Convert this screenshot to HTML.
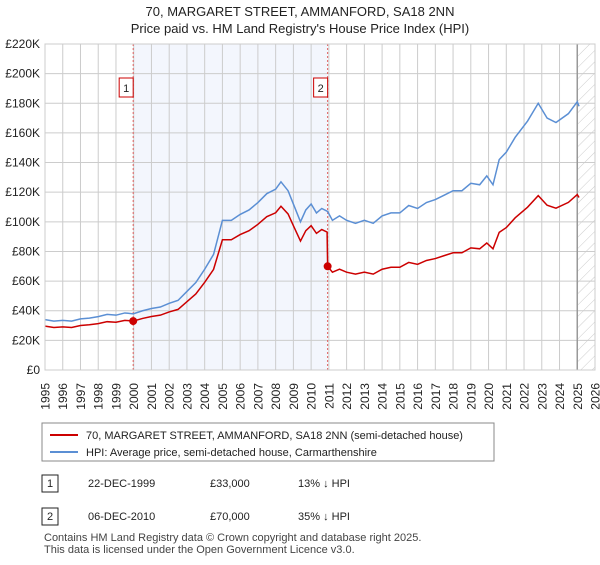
<!DOCTYPE html>
<html><head><meta charset="utf-8"><style>
body{margin:0;background:#fff;font-family:"Liberation Sans",sans-serif;}
svg text{font-family:"Liberation Sans",sans-serif;}
</style></head><body>
<svg width="600" height="560" xmlns="http://www.w3.org/2000/svg">
<defs><pattern id="hatch" width="8" height="8" patternUnits="userSpaceOnUse" patternTransform="rotate(45)"><line x1="0" y1="0" x2="0" y2="8" stroke="#ccc" stroke-width="1"/></pattern></defs>
<text x="300" y="16" text-anchor="middle" font-size="13" fill="#222">70, MARGARET STREET, AMMANFORD, SA18 2NN</text>
<text x="300" y="33" text-anchor="middle" font-size="13" fill="#222">Price paid vs. HM Land Registry's House Price Index (HPI)</text>
<g id="plot"></g>
<g>
<rect x="42" y="423" width="452" height="38" fill="#fff" stroke="#888"/>
<line x1="50" y1="435" x2="78" y2="435" stroke="#cc0000" stroke-width="2"/>
<text x="86" y="439" font-size="11" fill="#222">70, MARGARET STREET, AMMANFORD, SA18 2NN (semi-detached house)</text>
<line x1="50" y1="452" x2="78" y2="452" stroke="#5b8fd4" stroke-width="2"/>
<text x="86" y="456" font-size="11" fill="#222">HPI: Average price, semi-detached house, Carmarthenshire</text>
</g>
<g font-size="11" fill="#222">
<rect x="42" y="475" width="16" height="17" fill="#fff" stroke="#222"/><text x="50" y="487" text-anchor="middle">1</text>
<text x="88" y="487">22-DEC-1999</text><text x="210" y="487">£33,000</text><text x="298" y="487">13% ↓ HPI</text>
<rect x="42" y="508" width="16" height="17" fill="#fff" stroke="#222"/><text x="50" y="520" text-anchor="middle">2</text>
<text x="88" y="520">06-DEC-2010</text><text x="210" y="520">£70,000</text><text x="298" y="520">35% ↓ HPI</text>
</g>
<text x="44" y="541" font-size="11" fill="#444">Contains HM Land Registry data © Crown copyright and database right 2025.</text>
<text x="44" y="553" font-size="11" fill="#444">This data is licensed under the Open Government Licence v3.0.</text>
</svg>
<script>
const yTicks=[0,20,40,60,80,100,120,140,160,180,200,220];
const years=[1995,1996,1997,1998,1999,2000,2001,2002,2003,2004,2005,2006,2007,2008,2009,2010,2011,2012,2013,2014,2015,2016,2017,2018,2019,2020,2021,2022,2023,2024,2025,2026];
const hpiDates=[1995.0,1995.5,1996.0,1996.5,1997.0,1997.5,1998.0,1998.5,1999.0,1999.5,1999.97,2000.5,2001.0,2001.5,2002.0,2002.5,2003.0,2003.5,2004.0,2004.5,2005.0,2005.5,2006.0,2006.5,2007.0,2007.5,2008.0,2008.3,2008.7,2009.0,2009.4,2009.7,2010.0,2010.3,2010.6,2010.93,2011.2,2011.6,2012.0,2012.5,2013.0,2013.5,2014.0,2014.5,2015.0,2015.5,2016.0,2016.5,2017.0,2017.5,2018.0,2018.5,2019.0,2019.5,2019.9,2020.25,2020.6,2021.0,2021.5,2022.2,2022.8,2023.3,2023.8,2024.5,2025.0,2025.1];
const hpiValues=[34,33,33.5,33,34.5,35,36,37.5,37,38.5,37.9,40,41.5,42.5,45,47,53,59,68,78,101,101,105,108,113,119,122,127,121,112,100,108,112,106,109,107,101,104,101,99,101,99,104,106,106,111,109,113,115,118,121,121,126,125,131,125,142,147,157,168,180,170,167,173,181,178];
const priceDates=[1995.0,1995.5,1996.0,1996.5,1997.0,1997.5,1998.0,1998.5,1999.0,1999.5,1999.97,2000.5,2001.0,2001.5,2002.0,2002.5,2003.0,2003.5,2004.0,2004.5,2005.0,2005.5,2006.0,2006.5,2007.0,2007.5,2008.0,2008.3,2008.7,2009.0,2009.4,2009.7,2010.0,2010.3,2010.6,2010.9,2010.93,2011.2,2011.6,2012.0,2012.5,2013.0,2013.5,2014.0,2014.5,2015.0,2015.5,2016.0,2016.5,2017.0,2017.5,2018.0,2018.5,2019.0,2019.5,2019.9,2020.25,2020.6,2021.0,2021.5,2022.2,2022.8,2023.3,2023.8,2024.5,2025.0,2025.1];
const priceValues=[29.6,28.7,29.1,28.7,30,30.5,31.3,32.6,32.2,33.5,33,34.8,36.1,37,39.2,40.9,46.1,51.3,59.2,67.9,87.9,87.9,91.4,94,98.3,103.5,106.1,110.5,105.3,97.4,87,94,97.4,92.2,94.8,93.1,70,66,68,66,64.7,66,64.7,68,69.3,69.3,72.6,71.3,73.9,75.2,77.2,79.1,79.1,82.4,81.8,85.7,81.8,92.9,96.1,102.7,109.9,117.7,111.2,109.2,113.1,118.4,116.4];
const saleDates=[1999.97,2010.93];
const saleValues=[33,70];
const saleLabels=["1","2"];
const X0=45,X1=595,Y0=370,Y1=44;
const x=t=>X0+(t-1995)/(2026-1995)*(X1-X0);
const y=v=>Y0-v/220*(Y0-Y1);
const NS="http://www.w3.org/2000/svg";
const g=document.getElementById('plot');
function mk(tag,attrs,parent){const e=document.createElementNS(NS,tag);for(const k in attrs)e.setAttribute(k,attrs[k]);(parent||g).appendChild(e);return e;}
const shade=mk('rect',{x:x(saleDates[0]),y:Y1,width:x(saleDates[1])-x(saleDates[0]),height:Y0-Y1,fill:'#f3f6fd'});


const hat=mk('rect',{x:x(2025),y:Y1,width:X1-x(2025),height:Y0-Y1,fill:'url(#hatch)'});


years.forEach(yr=>{
 mk('line',{x1:x(yr),x2:x(yr),y1:Y1,y2:Y0,stroke:'#ccc','stroke-width':1});
 const tx=x(yr)+4.5, ty=Y0+13;
 const t=mk('text',{x:tx,y:ty,'text-anchor':'end','font-size':12,fill:'#222',transform:'rotate(-90 '+tx+' '+ty+')'});t.textContent=yr;
 
 
});
yTicks.forEach(v=>{
 mk('line',{x1:X0,x2:X1,y1:y(v),y2:y(v),stroke:'#ccc','stroke-width':1});
 const t=mk('text',{x:X0-5,y:y(v)+4,'text-anchor':'end','font-size':12,fill:'#222'});t.textContent=v===0?'£0':'£'+v+'K';
 
 
});
mk('line',{x1:x(2025),x2:x(2025),y1:Y1,y2:Y0,stroke:'#999','stroke-width':1.5});
saleDates.forEach((d,i)=>{
 const l=mk('line',{x1:x(d),x2:x(d),y1:Y1,y2:Y0,stroke:'#e06060','stroke-width':1,'stroke-dasharray':'2,2'});
 
 
 const b=mk('rect',{x:x(d)-14,y:78,width:14,height:19,fill:'#fff',stroke:'#cc0000'});
 
 
 const t=mk('text',{x:x(d)-7,y:92,'text-anchor':'middle','font-size':11,fill:'#222'});t.textContent=saleLabels[i];
});
const hp=mk('polyline',{points:hpiDates.map((d,i)=>x(d)+','+y(hpiValues[i])).join(' '),fill:'none',stroke:'#5b8fd4','stroke-width':1.5});


const pp=mk('polyline',{points:priceDates.map((d,i)=>x(d)+','+y(priceValues[i])).join(' '),fill:'none',stroke:'#cc0000','stroke-width':1.5});


saleDates.forEach((d,i)=>{
 const c=mk('circle',{cx:x(d),cy:y(saleValues[i]),r:4,fill:'#cc0000'});
 
 
});
mk('rect',{x:X0,y:Y1,width:X1-X0,height:Y0-Y1,fill:'none',stroke:'#ccc'});
</script>
</body></html>
